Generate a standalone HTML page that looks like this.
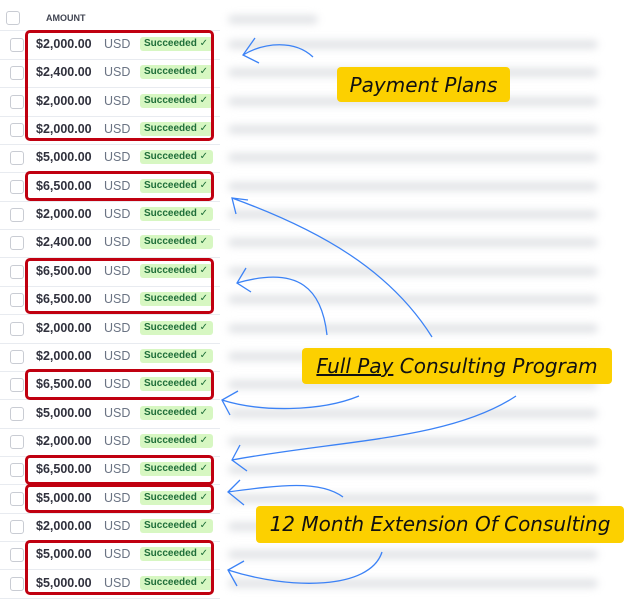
<!DOCTYPE html>
<html><head><style>
body{margin:0;width:630px;height:608px;background:#fff;overflow:hidden;position:relative;font-family:"Liberation Sans",sans-serif}
.row{position:absolute;left:0;width:220px;height:28px;border-bottom:1px solid #e8ebf0}
.cb{position:absolute;left:10px;top:7px;width:12px;height:12px;border:1px solid #c9ccd3;border-radius:3px;background:#fff}
.amt{position:absolute;left:36px;top:6px;font-size:12.5px;font-weight:bold;color:#30313d}
.usd{position:absolute;left:104px;top:6px;font-size:12.5px;color:#6a7383}
.st{position:absolute;left:140px;top:6px;height:14px;width:73px;background:#d7f7c2;border-radius:3px;font-size:10px;font-weight:bold;color:#1f6e3a;line-height:14px;padding-left:4px;box-sizing:border-box}
.st span{font-weight:normal;font-size:10px}
.red{position:absolute;left:25px;width:189px;border:3px solid #c00010;border-radius:5px;box-sizing:border-box}
.lab{position:absolute;background:#fcd000;border-radius:4px;font-family:"Comic Sans MS","DejaVu Sans",sans-serif;font-style:italic;color:#111;font-size:20px;line-height:36px;text-align:center}
.blur{position:absolute;left:228px;width:370px;height:9px;background:#e2e4e7;filter:blur(4px);border-radius:5px}
</style></head><body>
<div style="position:absolute;left:6px;top:11px;width:12px;height:12px;border:1px solid #c9ccd3;border-radius:3px"></div>
<div style="position:absolute;left:46px;top:13px;font-size:9px;font-weight:bold;color:#414552">AMOUNT</div>
<div style="position:absolute;left:0;top:30px;width:220px;border-top:1px solid #e8ebf0"></div>
<div class="blur" style="top:15px;width:90px"></div>
<div id="rows"></div>
<div class="red" style="top:30px;height:111px"></div>
<div class="red" style="top:171px;height:30px"></div>
<div class="red" style="top:258px;height:56px"></div>
<div class="red" style="top:369px;height:31px"></div>
<div class="red" style="top:455px;height:30px"></div>
<div class="red" style="top:484px;height:29px"></div>
<div class="red" style="top:540px;height:55px"></div>
<div class="lab" style="left:337px;top:67px;width:173px;height:35px">Payment Plans</div>
<div class="lab" style="left:302px;top:348px;width:310px;height:36px"><span style="text-decoration:underline">Full Pay</span> Consulting Program</div>
<div class="lab" style="left:256px;top:506px;width:368px;height:37px">12 Month Extension Of Consulting</div>
<svg width="630" height="608" style="position:absolute;left:0;top:0" fill="none" stroke="#3b82f6" stroke-width="1.3">
<path d="M313 57 C295 40 265 42 243 55 M255 38 L243 55 L259 63"/>
<path d="M432 337 C390 270 320 230 232 198 M236 214 L232 198 L248 200"/>
<path d="M327 335 C322 290 300 265 237 283 M246 268 L237 283 L251 292"/>
<path d="M359 396 C320 412 260 412 222 400 M238 391 L222 400 L230 415"/>
<path d="M516 396 C450 440 340 440 232 460 M240 445 L232 460 L247 471"/>
<path d="M343 497 C320 480 280 485 228 492 M240 480 L228 492 L244 505"/>
<path d="M382 552 C370 590 290 590 228 570 M244 561 L228 570 L237 586"/>
</svg>
<script>
var a=["$2,000.00","$2,400.00","$2,000.00","$2,000.00","$5,000.00","$6,500.00","$2,000.00","$2,400.00","$6,500.00","$6,500.00","$2,000.00","$2,000.00","$6,500.00","$5,000.00","$2,000.00","$6,500.00","$5,000.00","$2,000.00","$5,000.00","$5,000.00"];
var h="";
for(var i=0;i<20;i++){var t=31+i*28.35;
h+='<div class="blur" style="top:'+(t+9)+'px"></div><div class="row" style="top:'+t+'px"><div class="cb"></div><div class="amt">'+a[i]+'</div><div class="usd">USD</div><div class="st">Succeeded <span>✓</span></div></div>';}
document.getElementById("rows").innerHTML=h;
</script>
</body></html>
